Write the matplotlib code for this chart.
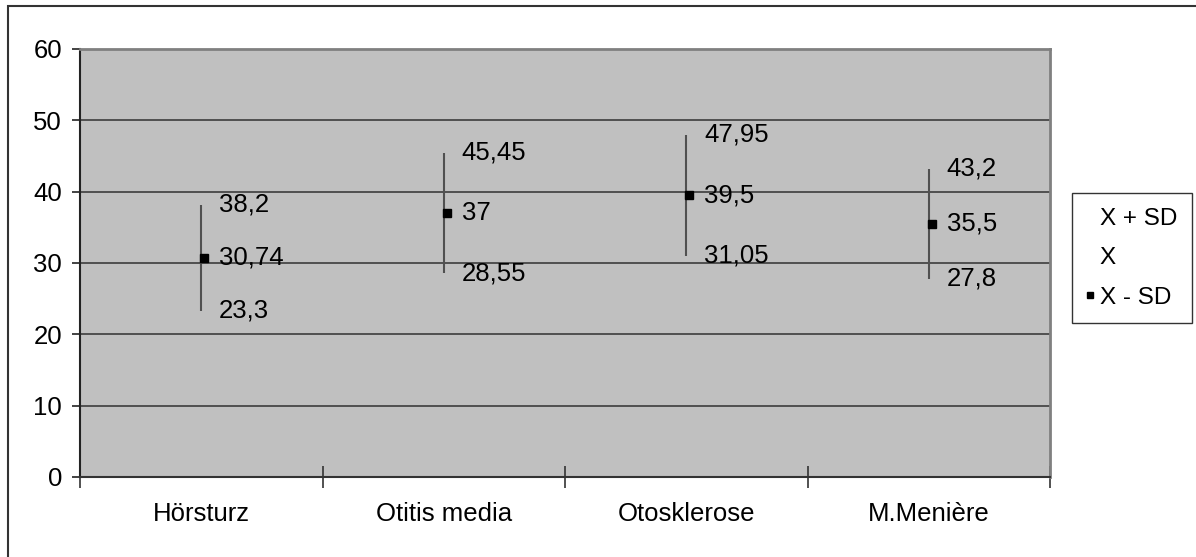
import matplotlib.pyplot as plt
import numpy as np
from matplotlib.lines import Line2D
from matplotlib.patches import Rectangle
import matplotlib.transforms as mtransforms

plt.rcParams['font.family'] = ['Liberation Sans', 'DejaVu Sans']

categories = ['Hörsturz', 'Otitis media', 'Otosklerose', 'M.Menière']
upper = [38.2, 45.45, 47.95, 43.2]
mean = [30.74, 37, 39.5, 35.5]
lower = [23.3, 28.55, 31.05, 27.8]
upper_txt = ['38,2', '45,45', '47,95', '43,2']
mean_txt = ['30,74', '37', '39,5', '35,5']
lower_txt = ['23,3', '28,55', '31,05', '27,8']

fs = 18.5

fig = plt.figure(figsize=(11.96, 5.57), dpi=100)
ax = fig.add_axes([80/1196, 80/557, 970/1196, 428/557])
ax.set_facecolor('#c0c0c0')

x = np.arange(len(categories))
ax.set_xlim(-0.5, len(categories) - 0.5)
ax.set_ylim(0, 60)

# grid
for yv in range(10, 60, 10):
    ax.axhline(yv, color='#3c3c3c', lw=1.2, zorder=1)

ax.vlines(x, lower, upper, color='#505050', lw=1.5, zorder=2)
off = mtransforms.ScaledTranslation(3/100, 0, fig.dpi_scale_trans)
ax.plot(x, mean, 's', color='black', ms=5.5, transform=ax.transData + off, zorder=3)

txt_off = mtransforms.ScaledTranslation(18/100, 0, fig.dpi_scale_trans)
for i in range(len(categories)):
    for val, t in ((upper[i], upper_txt[i]), (mean[i], mean_txt[i]), (lower[i], lower_txt[i])):
        ax.text(x[i], val, t, fontsize=fs, ha='left', va='center',
                transform=ax.transData + txt_off, zorder=4)

# axes styling
ax.spines['top'].set_color('#808080')
ax.spines['right'].set_color('#808080')
ax.spines['top'].set_linewidth(2)
ax.spines['right'].set_linewidth(2)
ax.spines['left'].set_color('#222222')
ax.spines['bottom'].set_color('#333333')
ax.spines['left'].set_linewidth(1.5)
ax.spines['bottom'].set_linewidth(1.5)

ax.set_yticks(range(0, 61, 10))
ax.tick_params(axis='y', direction='out', length=6, width=1.2, color='#222222',
               labelsize=fs, pad=7)
ax.set_xticks(x)
ax.set_xticklabels(categories, fontsize=fs)
ax.tick_params(axis='x', which='major', length=0, pad=18)
ax.set_xticks(np.arange(-0.5, len(categories)), minor=True)
ax.tick_params(axis='x', which='minor', direction='inout', length=16, width=1.2, color='#333333')

# legend
handles = [Line2D([], [], ls='none', marker='none'),
           Line2D([], [], ls='none', marker='none'),
           Line2D([], [], ls='none', marker='s', color='black', ms=4.5)]
leg = fig.legend(handles, ['X + SD', 'X', 'X - SD'], loc='upper left',
                 bbox_to_anchor=(1072/1196, 1 - 193/557), fontsize=17.5,
                 frameon=True, fancybox=False, handlelength=0.3, handletextpad=0.25,
                 labelspacing=0.72, borderpad=0.6, borderaxespad=0)
leg.get_frame().set_edgecolor('black')
leg.get_frame().set_linewidth(1)

# outer frame
fig.patches.append(Rectangle((8/1196, -0.1), 1.2, 1.1 - 6/557, transform=fig.transFigure,
                             fill=False, edgecolor='#333333', lw=1.5))

fig.savefig('out.png', dpi=100)
